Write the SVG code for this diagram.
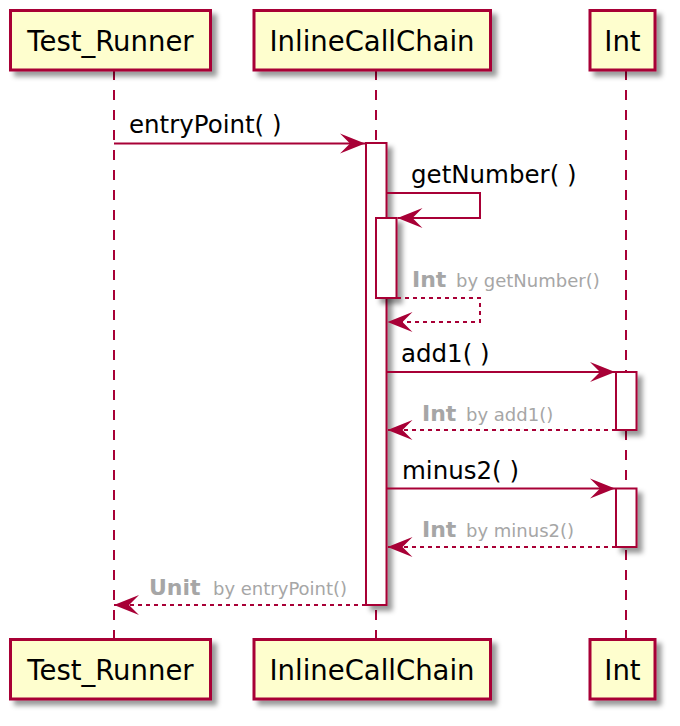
<svg xmlns="http://www.w3.org/2000/svg" width="680" height="726" viewBox="0 0 680 726">
<style>
.box{fill:#FEFECE;stroke:#A80036;stroke-width:3;}
.act{fill:#FFFFFF;stroke:#A80036;stroke-width:2;}
.life{stroke:#A80036;stroke-width:2;stroke-dasharray:10,10;fill:none;}
.msg{stroke:#A80036;stroke-width:2;fill:none;marker-end:url(#ah);}
.ret{stroke:#A80036;stroke-width:2;fill:none;stroke-dasharray:4,4;marker-end:url(#ah);}
.pname{font-family:"DejaVu Sans","Liberation Sans",sans-serif;font-size:27.5px;fill:#000;text-anchor:middle;}
.mlabel{font-family:"DejaVu Sans","Liberation Sans",sans-serif;font-size:24.5px;fill:#000;}
.rtype{font-family:"DejaVu Sans","Liberation Sans",sans-serif;font-size:22px;font-weight:bold;fill:#A6A6A6;}
.rby{font-family:"DejaVu Sans","Liberation Sans",sans-serif;font-size:18px;fill:#A6A6A6;}
</style>
<defs>
<filter id="sh" x="-50%" y="-20%" width="220%" height="150%">
<feGaussianBlur in="SourceAlpha" stdDeviation="2.5" result="b"/>
<feOffset in="b" dx="5" dy="5" result="o"/>
<feFlood flood-color="#000" flood-opacity="0.4"/>
<feComposite in2="o" operator="in" result="s"/>
<feMerge><feMergeNode in="s"/><feMergeNode in="SourceGraphic"/></feMerge>
</filter>
<marker id="ah" markerUnits="userSpaceOnUse" viewBox="-26 -11 27 22" markerWidth="27" markerHeight="22" refX="0" refY="0" orient="auto">
<path d="M0,0 L-25,-10 L-15,0 L-25,10 Z" fill="#A80036"/>
</marker>
</defs>
<rect width="680" height="726" fill="#FFFFFF"/>

<g id="lifelines">
<line class="life" x1="114" y1="70" x2="114" y2="639"/>
<line class="life" x1="376" y1="70" x2="376" y2="639"/>
<line class="life" x1="626" y1="70" x2="626" y2="639"/>
</g>

<g id="Test_Runner">
<rect class="box" x="10.5" y="10.5" width="200" height="59.5" filter="url(#sh)"/>
<text class="pname" x="110.5" y="50.5">Test_Runner</text>
<rect class="box" x="10.5" y="639.5" width="200" height="59.5" filter="url(#sh)"/>
<text class="pname" x="110.5" y="680">Test_Runner</text>
</g>

<g id="InlineCallChain">
<rect class="box" x="254" y="10.5" width="236.5" height="59.5" filter="url(#sh)"/>
<text class="pname" x="372" y="50.5">InlineCallChain</text>
<rect class="box" x="254" y="639.5" width="236.5" height="59.5" filter="url(#sh)"/>
<text class="pname" x="372" y="680">InlineCallChain</text>
<rect class="act" x="366" y="143" width="20.5" height="462" filter="url(#sh)"/>
<rect class="act" x="376" y="218" width="20.5" height="80" filter="url(#sh)"/>
</g>

<g id="Int">
<rect class="box" x="590" y="10.5" width="65" height="59.5" filter="url(#sh)"/>
<text class="pname" x="622.5" y="50.5">Int</text>
<rect class="box" x="590" y="639.5" width="65" height="59.5" filter="url(#sh)"/>
<text class="pname" x="622.5" y="680">Int</text>
<rect class="act" x="616" y="372" width="20.5" height="58" filter="url(#sh)"/>
<rect class="act" x="616" y="488.5" width="20.5" height="58.5" filter="url(#sh)"/>
</g>

<g id="connectors">
<path class="msg" d="M114,143.5 H365"/>
<text class="mlabel" x="129" y="133">entryPoint( )</text>

<path class="msg" d="M387,193 H480 V218 H397.5"/>
<text class="mlabel" x="411" y="183">getNumber( )</text>

<path class="ret" d="M397,298 H480 V322 H387.5"/>
<text class="rtype" x="412" y="287">Int</text>
<text class="rby" x="456" y="287">by getNumber()</text>

<path class="msg" d="M387,372 H615"/>
<text class="mlabel" x="401" y="362">add1( )</text>

<path class="ret" d="M616,430 H387.5"/>
<text class="rtype" x="422" y="421">Int</text>
<text class="rby" x="466" y="421">by add1()</text>

<path class="msg" d="M387,488.5 H615"/>
<text class="mlabel" x="402" y="479">minus2( )</text>

<path class="ret" d="M616,547 H387.5"/>
<text class="rtype" x="422" y="537">Int</text>
<text class="rby" x="466" y="537">by minus2()</text>

<path class="ret" d="M366,605 H114"/>
<text class="rtype" x="149" y="595">Unit</text>
<text class="rby" x="213" y="595">by entryPoint()</text>
</g>
</svg>
